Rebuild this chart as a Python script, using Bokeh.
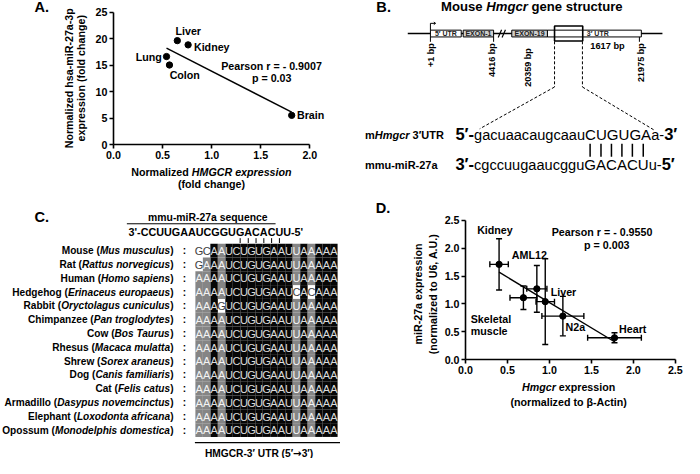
import numpy as np
from bokeh.plotting import figure
from bokeh.models import FixedTicker, PrintfTickFormatter, ColumnDataSource, Whisker, TeeHead, Range1d
from bokeh.layouts import column, row
from bokeh.embed import file_html
from bokeh.resources import INLINE
from bokeh.core.properties import value

# ---------------- data ----------------
# Panel A: human tissues
a_tissues = ["Liver", "Kidney", "Lung", "Colon", "Brain"]
a_hmgcr = [0.65, 0.76, 0.54, 0.57, 1.815]
a_mir27a = [19.6, 18.8, 16.6, 15.0, 5.5]
a_xticks = [0.0, 0.5, 1.0, 1.5, 2.0]
a_yticks = [0, 5, 10, 15, 20, 25]
a_stats = ["Pearson r = - 0.9007", "p = 0.03"]

# Panel D: mouse tissues / cells
d_samples = ["Kidney", "Skeletal muscle", "Liver", "AML12", "N2a", "Heart"]
d_hmgcr = [0.40, 0.69, 0.85, 0.95, 1.16, 1.775]
d_hmgcr_sd = [0.11, 0.16, 0.12, 0.11, 0.25, 0.32]
d_mir27a = [1.71, 1.11, 1.27, 1.04, 0.78, 0.39]
d_mir27a_sd = [0.46, 0.21, 0.42, 0.77, 0.355, 0.09]
d_ticks = [0.0, 0.5, 1.0, 1.5, 2.0, 2.5]
d_stats = ["Pearson r = - 0.9550", "p = 0.003"]

# Panel C: alignment
c_common = ["Mouse", "Rat", "Human", "Hedgehog", "Rabbit", "Chimpanzee", "Cow",
            "Rhesus", "Shrew", "Dog", "Cat", "Armadillo", "Elephant", "Opossum"]
c_latin = ["Mus musculus", "Rattus norvegicus", "Homo sapiens", "Erinaceus europaeus",
           "Oryctolagus cuniculus", "Pan troglodytes", "Bos Taurus", "Macaca mulatta",
           "Sorex araneus", "Canis familiaris", "Felis catus", "Dasypus novemcinctus",
           "Loxodonta africana", "Monodelphis domestica"]
c_utr = ["GCAAUCUGUGAAUUAAAAA", "GAAAUCUGUGAAUUAAAAA", "AAAAUCUGUGAAUUAAAAA",
         "AAAAUCUGUGAAUCACAAA", "AAAGUCUGUGAAUUAAAAA"] + ["AAAAUCUGUGAAUUAAAAA"] * 9
c_mirna = "3'-CCUUGAAUCGGUGACACUU-5'"
c_seed_start = 15
c_seed_len = 6

# Panel B: gene structure
b_positions = ["+1 bp", "4416 bp", "20359 bp", "21975 bp"]
b_utr_len = "1617 bp"
b_utr_seq = ["gacuaacaugcaau", "CUGUGA", "a-"]
b_mir_seq = ["cgccuugaaucggu", "GACACU", "u-"]

# ---------------- text metrics (Arial / Liberation Sans) ----------------
FONT = "Liberation Sans"
UP = "ABCDEFGHIJKLMNOPQRSTUVWXYZ"
LO = "abcdefghijklmnopqrstuvwxyz"
REG_W = dict(zip(UP, [667, 667, 722, 722, 667, 611, 778, 722, 278, 500, 667, 556, 833,
                      722, 778, 667, 778, 722, 667, 611, 722, 667, 944, 667, 667, 611]))
REG_W.update(zip(LO, [556, 556, 500, 556, 556, 278, 556, 556, 222, 222, 500, 222, 833,
                      556, 556, 556, 556, 333, 500, 278, 556, 500, 722, 500, 500, 500]))
REG_W.update({" ": 278, "(": 333, ")": 333, "+": 584, ",": 278, "-": 333, ".": 278,
              ":": 278, "=": 584, "'": 191, "\u2032": 191, "\u2192": 838})
REG_W.update({d: 556 for d in "0123456789"})
BOLD_W = dict(zip(UP, [722, 722, 722, 722, 667, 611, 778, 722, 278, 556, 722, 611, 833,
                       722, 778, 667, 778, 722, 667, 611, 722, 667, 944, 667, 667, 611]))
BOLD_W.update(zip(LO, [556, 611, 556, 611, 556, 333, 611, 611, 278, 278, 556, 278, 889,
                       611, 611, 611, 611, 389, 556, 333, 611, 556, 778, 556, 556, 500]))
BOLD_W.update({" ": 278, "(": 333, ")": 333, "+": 584, ",": 278, "-": 333, ".": 278,
               ":": 333, "=": 584, "'": 238, "\u2032": 238, "\u2192": 838})
BOLD_W.update({d: 556 for d in "0123456789"})


def tw(t, size, style):
    tab = BOLD_W if "bold" in style else REG_W
    return sum(tab.get(c, 556) for c in t) * size / 1000.0


# ---------------- layout geometry ----------------
S = 0.972
H1, H2 = 197, 261
RY_TOP = 1.0
RY_BOT = RY_TOP + H1 / S
RX_RIGHT = 340 / S


def fs(sz):
    return value(f"{sz * S:.2f}px")


def no_align(p):
    try:
        p.frame_align = False
    except Exception:
        pass


def make_put(p, conv=None):
    def put(x, y, t, sz, style, align="left", baseline="middle", angle=0.0, color="black", font=FONT):
        if conv is not None:
            x, y = conv(x, y)
        p.text(x=[x], y=[y], text=[t], text_font=value(font), text_font_size=fs(sz),
               text_font_style=style, text_align=align, text_baseline=baseline,
               angle=angle, text_color=color)
    return put


def canvas(rx0, ry0, wpx, hpx):
    p = figure(width=wpx, height=hpx, x_range=Range1d(rx0, rx0 + wpx / S),
               y_range=Range1d(ry0 + hpx / S, ry0), x_axis_type=None, y_axis_type=None,
               output_backend="svg", toolbar_location=None, min_border=0)
    p.grid.visible = False
    p.outline_line_color = None
    no_align(p)
    return p, make_put(p)


def data_plot(rx0, ry0, wpx, hpx, left_px, bottom_px, xpu, ypu, xb, yb):
    fw = wpx - left_px
    fh = hpx - bottom_px
    fl_ref = rx0 + left_px / S
    fb_ref = ry0 + fh / S
    p = figure(width=wpx, height=hpx, frame_width=fw, frame_height=fh,
               min_border_left=left_px, min_border_right=0, min_border_top=0,
               min_border_bottom=bottom_px,
               x_range=Range1d(0, fw / S / xpu), y_range=Range1d(0, fh / S / ypu),
               output_backend="svg", toolbar_location=None)
    no_align(p)
    p.grid.visible = False
    p.outline_line_color = None
    p.xaxis.bounds = xb
    p.yaxis.bounds = yb
    for ax in p.axis:
        ax.axis_line_width = 1.6
        ax.major_tick_line_width = 1.6
        ax.major_tick_out = 4
        ax.major_tick_in = 0
        ax.minor_tick_line_color = None
        ax.major_label_text_font = FONT
        ax.major_label_text_font_style = "bold"
        ax.major_label_text_font_size = f"{11 * S:.2f}px"
        ax.major_label_text_color = "black"
        ax.major_label_standoff = 2

    def conv(rx, ry):
        return (rx - fl_ref) / xpu, (fb_ref - ry) / ypu
    return p, make_put(p, conv)


def runs(put, x, y, parts, align="left"):
    widths = [tw(pt[0], pt[1], pt[2]) for pt in parts]
    total = sum(widths)
    if align == "center":
        x -= total / 2
    elif align == "right":
        x -= total
    starts = []
    for pt, w in zip(parts, widths):
        t, sz, st = pt[:3]
        font = pt[3] if len(pt) > 3 else FONT
        lead = len(t) - len(t.lstrip(" "))
        put(x + tw(" " * lead, sz, st), y, t.strip(" "), sz, st, font=font)
        starts.append(x + tw(" " * lead, sz, st))
        x += w
    return starts


# ================= Panel A =================
A_LW = 89
pAl, putAl = canvas(0.0, RY_TOP, A_LW, H1)
putAl(35.0, 7.5, "A.", 15, "bold")
putAl(70.0, 81.0, "Normalized hsa-miR-27a-3p", 11, "bold", align="center", angle=np.pi / 2)
putAl(83.3, 81.0, "expression (fold change)", 11, "bold", align="center", angle=np.pi / 2)

A_PH = 166
pA, putA = data_plot(A_LW / S, RY_TOP, 251, A_PH, 24, 22, 101.0, 5.452, (0, 2.0), (0, 25))
pA.xaxis.ticker = FixedTicker(ticks=a_xticks)
pA.xaxis.formatter = PrintfTickFormatter(format="%.1f")
pA.yaxis.ticker = FixedTicker(ticks=a_yticks)
pA.scatter(a_hmgcr, a_mir27a, size=6.5 * S, color="black")
ka, ba = np.polyfit(a_hmgcr, a_mir27a, 1)
ax_fit = np.array([min(a_hmgcr), max(a_hmgcr)])
pA.line(ax_fit, ka * ax_fit + ba, line_width=1.4, color="black")
a_label_pos = [(180.0, 32.7, "left"), (199.0, 49.0, "left"), (166.0, 59.0, "right"),
               (174.0, 78.0, "left"), (305.0, 119.0, "left")]
for name, (lx, ly, al) in zip(a_tissues, a_label_pos):
    putA(lx, ly, name, 11, "bold", align=al)
putA(227.0, 68.0, a_stats[0], 11, "bold")
putA(279.0, 81.0, a_stats[1], 11, "bold", align="center")

pAb, putAb = canvas(A_LW / S, RY_TOP + A_PH / S, 251, H1 - A_PH)
runs(putAb, 217.0, 177.0, [("Normalized ", 11, "bold"), ("HMGCR expression", 11, "bold italic")],
     align="center")
putAb(217.0, 190.0, "(fold change)", 11, "bold", align="center")

# ================= Panel B =================
pB, putB = canvas(RX_RIGHT, RY_TOP, 344, H1)
putB(386.7, 7.5, "B.", 15, "bold")
runs(putB, 546.7, 7.5, [("Mouse ", 13.5, "bold"), ("Hmgcr", 13.5, "bold italic"),
                         (" gene structure", 13.5, "bold")], align="center")
pB.segment(x0=[419], y0=[35], x1=[681], y1=[35], line_width=1.5, color="black")
box_l = [442.3, 476.0, 526.0, 562.7]
box_r = [474.0, 507.3, 562.7, 659.3]
box_fill = ["white", "#cfcfcf", "#cfcfcf", "white"]
pB.quad(left=box_l, right=box_r, top=[31.5] * 4, bottom=[38.5] * 4, fill_color=box_fill,
        line_color="black", line_width=1.0)
for t, cx in zip(["5\u2032 UTR", "EXON-1", "EXON-19", "3\u2032 UTR"], [458.2, 491.7, 544.3, 614.5]):
    putB(cx, 35.2, t, 7.2, "bold", align="center", color="#222222")
pB.quad(left=[570.0], right=[599.0], top=[27.3], bottom=[42.7], fill_color=None,
        line_color="black", line_width=1.6)
pB.segment(x0=[512.0, 516.0], y0=[39.0, 39.0], x1=[515.5, 519.5], y1=[31.0, 31.0],
           line_width=1.2, color="black")
pB.line([442.3, 442.3, 447.5], [31.5, 24.5, 24.5], line_width=1.0, color="black")
pB.segment(x0=[447.5, 447.5], y0=[24.5, 24.5], x1=[445.8, 445.8], y1=[23.2, 25.8],
           line_width=1.0, color="black")
pB.segment(x0=[442.3, 507.3, 657.3], y0=[38.5] * 3, x1=[442.3, 507.3, 657.3], y1=[43.5] * 3,
           line_width=1.0, color="black")
for t, lx, ly in zip(b_positions, [443.0, 505.8, 543.0, 658.5], [45.0, 45.0, 50.0, 45.0]):
    putB(lx, ly, t, 9.3, "bold", align="right", angle=np.pi / 2)
putB(624.5, 48.3, b_utr_len, 9.5, "bold", align="center")
pB.segment(x0=[570.0, 598.7, 570.0, 598.7], y0=[43.0, 43.0, 90.0, 90.0],
           x1=[570.0, 598.7, 493.0, 672.0], y1=[90.0, 90.0, 133.0, 134.0],
           line_width=1.0, line_dash="3 2", color="black")
runs(putB, 375.0, 139.0, [("m", 11.3, "bold"), ("Hmgcr", 11.3, "bold italic"),
                           (" 3\u2032UTR", 11.3, "bold")])
putB(375.0, 170.0, "mmu-miR-27a", 11.3, "bold")
runs(putB, 468.0, 139.0, [("5\u2032-", 17, "bold"), (b_utr_seq[0], 15, "normal"),
                           (b_utr_seq[1], 15.5, "normal"), (b_utr_seq[2], 15, "normal"),
                           ("3\u2032", 17, "bold")])
st = runs(putB, 468.0, 170.0, [("3\u2032-", 17, "bold"), (b_mir_seq[0], 15, "normal"),
                                (b_mir_seq[1], 15.5, "normal"), (b_mir_seq[2], 15, "normal"),
                                ("5\u2032", 17, "bold")])
bx = []
xx = st[2]
for ch in b_mir_seq[1]:
    w = tw(ch, 15.5, "normal")
    bx.append(xx + w / 2)
    xx += w
pB.segment(x0=bx, y0=[148.3] * 6, x1=bx, y1=[161.7] * 6, line_width=1.5, color="black")

# ================= Panel C =================
pC, putC = canvas(0.0, RY_BOT, 340, H2)
putC(35.0, 224.0, "C.", 15, "bold")
putC(213.3, 224.0, "mmu-miR-27a sequence", 10.7, "bold", align="center")
pC.segment(x0=[130.0], y0=[230.7], x1=[283.0], y1=[230.7], line_width=1.0, color="black")
putC(131.7, 239.3, c_mirna, 11.1, "bold")
tx = []
xx = 131.7 + tw(c_mirna[:c_seed_start], 11.1, "bold")
for ch in c_mirna[c_seed_start:c_seed_start + c_seed_len]:
    w = tw(ch, 11.1, "bold")
    tx.append(xx + w / 2)
    xx += w
pC.segment(x0=tx, y0=[245.5] * 6, x1=tx, y1=[250.5] * 6, line_width=1.0, color="black")

ROW0, ROWH = 258.3, 14.2
COL0, COLW = 200.5, 7.7
ncol = len(c_utr[0])
cells = {"black": ([], [], [], []), "gray": ([], [], [], [])}
letters = {"black": ([], [], []), "gray": ([], [], []), "white": ([], [], [])}
for j in range(ncol):
    col = [s[j] for s in c_utr]
    major = max(set(col), key=col.count)
    for i, ch in enumerate(col):
        if col.count(major) == len(col):
            kind = "black"
        elif ch == major:
            kind = "gray"
        else:
            kind = "white"
        cy = ROW0 + i * ROWH
        if kind != "white":
            L, R, T, B = cells[kind]
            L.append(COL0 + j * COLW); R.append(COL0 + (j + 1) * COLW)
            T.append(cy - ROWH / 2); B.append(cy + ROWH / 2)
        X, Y, TT = letters[kind]
        X.append(COL0 + (j + 0.5) * COLW); Y.append(cy + 0.3); TT.append(ch)
for kind, fill in [("black", "#060606"), ("gray", "#858585")]:
    L, R, T, B = cells[kind]
    pC.quad(left=L, right=R, top=T, bottom=B, fill_color=fill, line_color=None)
for kind, tc in [("black", "#dcdcdc"), ("gray", "#f4f4f4"), ("white", "#404040")]:
    X, Y, TT = letters[kind]
    pC.text(x=X, y=Y, text=TT, text_font=value(FONT), text_font_size=fs(11.3),
            text_align="center", text_baseline="middle", text_color=tc)
for i, (cn, ln) in enumerate(zip(c_common, c_latin)):
    cy = ROW0 + i * ROWH
    runs(putC, 178.0, cy, [(cn + " (", 10.4, "bold"), (ln, 10.4, "bold italic"), (")", 10.4, "bold")],
         align="right")
    putC(189.3, cy, ":", 10.4, "bold", align="center")
pC.segment(x0=[200.0], y0=[455.8], x1=[352.0], y1=[455.8], line_width=1.3, color="black")
runs(putC, 266.0, 467.0, [("HMGCR-3\u2032 UTR (5\u2032", 10.5, "bold"),
                          ("\u2192", 10.5, "bold", "DejaVu Sans"), ("3\u2032)", 10.5, "bold")],
     align="center")

# ================= Panel D =================
D_LW = 101
pDl, putDl = canvas(RX_RIGHT, RY_BOT, D_LW, H2)
putDl(386.0, 214.0, "D.", 15, "bold")
putDl(430.0, 303.0, "miR-27a expression", 11, "bold", align="center", angle=np.pi / 2)
putDl(445.0, 303.0, "(normalized to U6, A.U.)", 11, "bold", align="center", angle=np.pi / 2)

D_PH = 184
D_W = 243
D_RX = RX_RIGHT + D_LW / S
pD, putD = data_plot(D_RX, RY_BOT, D_W, D_PH, 22, 22, 86.36, 57.24, (0, 2.5), (0, 2.5))
for ax in pD.axis:
    ax.ticker = FixedTicker(ticks=d_ticks)
    ax.formatter = PrintfTickFormatter(format="%.1f")
src = ColumnDataSource(dict(
    x=d_hmgcr, y=d_mir27a,
    xlo=[a - b for a, b in zip(d_hmgcr, d_hmgcr_sd)], xhi=[a + b for a, b in zip(d_hmgcr, d_hmgcr_sd)],
    ylo=[a - b for a, b in zip(d_mir27a, d_mir27a_sd)], yhi=[a + b for a, b in zip(d_mir27a, d_mir27a_sd)]))
for base, lo, hi, dim in [("x", "ylo", "yhi", "height"), ("y", "xlo", "xhi", "width")]:
    pD.add_layout(Whisker(source=src, base=base, lower=lo, upper=hi, dimension=dim,
                          line_width=1.4, line_color="black",
                          upper_head=TeeHead(size=6, line_width=1.4, line_color="black"),
                          lower_head=TeeHead(size=6, line_width=1.4, line_color="black")))
pD.scatter("x", "y", source=src, size=6.5 * S, color="black")
kd, bd = np.polyfit(d_hmgcr, d_mir27a, 1)
dx_fit = np.array([min(d_hmgcr), max(d_hmgcr)])
pD.line(dx_fit, kd * dx_fit + bd, line_width=1.4, color="black")
d_label_pos = [(488.3, 237.3), (481.7, 329.0), (564.0, 300.7), (524.0, 263.3), (579.3, 337.3), (634.3, 339.0)]
for name, (lx, ly) in zip(d_samples, d_label_pos):
    if name == "Skeletal muscle":
        putD(lx, ly, "Skeletal", 11, "bold")
        putD(lx, ly + 12.0, "muscle", 11, "bold")
    else:
        putD(lx, ly, name, 11, "bold")
putD(565.0, 239.0, d_stats[0], 11, "bold")
putD(621.7, 252.3, d_stats[1], 11, "bold", align="center")

pDb, putDb = canvas(D_RX, RY_BOT + D_PH / S, D_W, H2 - D_PH)
runs(putDb, 584.5, 399.0, [("Hmgcr", 11, "bold italic"), (" expression", 11, "bold")], align="center")
putDb(584.5, 414.5, "(normalized to \u03b2-Actin)", 11, "bold", align="center")

layout = column(row(pAl, column(pA, pAb), pB), row(pC, pDl, column(pD, pDb)))
open("out.html", "w").write(file_html(layout, INLINE))
